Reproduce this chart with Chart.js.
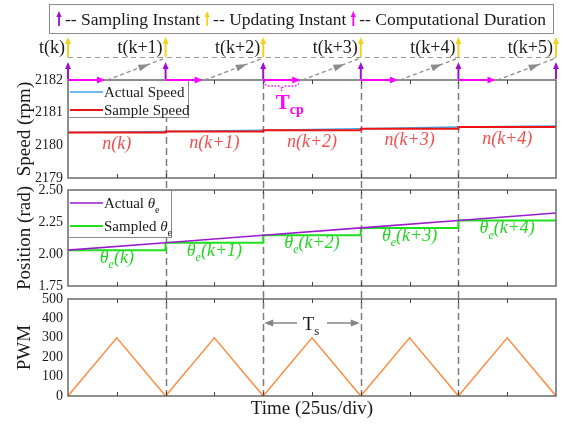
<!DOCTYPE html>
<html>
<head>
<meta charset="utf-8">
<script src="https://cdn.jsdelivr.net/npm/chart.js@4.4.1/dist/chart.umd.min.js"></script>
<style>
  html, body { margin: 0; padding: 0; background: #fff; }
  #wrap { position: relative; width: 566px; height: 426px; }
  #wrap canvas { position: absolute; left: 0; top: 0; }
</style>
</head>
<body>
<div id="wrap">
  <canvas id="pwm" width="566" height="426"></canvas>
  <canvas id="pos" width="566" height="426"></canvas>
  <canvas id="spd" width="566" height="426"></canvas>
</div>
<script>
const SERIF = '"Liberation Serif", "Times New Roman", serif';
const INK = '#1a1a1a';

// time base (µs): one sampling period spans two 25 µs divisions
const samplePeriod = 50;
const timeDivs = [0, 25, 50, 75, 100, 125, 150, 175, 200, 225, 250];
const sampleTimes = [0, 50, 100, 150, 200, 250];
const instantLabels = ['t(k)', 't(k+1)', 't(k+2)', 't(k+3)', 't(k+4)', 't(k+5)'];
const computeDelay = 19; // computational duration Tcp, µs

// speed loop (rpm)
const actualSpeed = [2180.39, 2180.42, 2180.46, 2180.51, 2180.56, 2180.59];
const sampleSpeed = [2180.39, 2180.42, 2180.46, 2180.51, 2180.56];
const speedLabels = ['n(k)', 'n(k+1)', 'n(k+2)', 'n(k+3)', 'n(k+4)'];
const speedTicks = [2179, 2180, 2181, 2182];

// electrical position (rad)
const actualTheta = [2.03, 2.088, 2.146, 2.204, 2.262, 2.32];
const sampledTheta = [2.03, 2.088, 2.146, 2.204, 2.262];
const thetaLabels = ['θ_e(k)', 'θ_e(k+1)', 'θ_e(k+2)', 'θ_e(k+3)', 'θ_e(k+4)'];
const thetaTicks = [1.75, 2.0, 2.25, 2.5];

// PWM carrier
const pwmTimes = [0, 25, 50, 75, 100, 125, 150, 175, 200, 225, 250];
const pwmCarrier = [0, 300, 0, 300, 0, 300, 0, 300, 0, 300, 0];
const pwmTicks = [0, 100, 200, 300, 400, 500];

const C = {
  blue: '#3da5ee', red: '#ee1414', nLabel: '#f24e4e',
  purple: '#9a1ccc', green: '#1fe01f', thLabel: '#22d622',
  orange: '#ff8a3d', sampleArrow: '#a010d0', updateArrow: '#f5d31b',
  magenta: '#ff00ff', gray: '#7c7c7c', frame: '#6b6b6b'
};

// text with '_x' subscripts, optional italics
function drawRich(ctx, text, x, y, opt) {
  const segs = [];
  for (let i = 0; i < text.length; i++) {
    const ch = text[i];
    if (ch === '_' && i + 1 < text.length) { segs.push({ t: text[i + 1], sub: true }); i++; }
    else segs.push({ t: ch, sub: false });
  }
  const subScale = opt.subScale || 0.68;
  const fontFor = s => {
    const it = (opt.italic && (!s.sub || opt.subItalic !== false)) || (opt.greekItalic && s.t === 'θ') ? 'italic ' : '';
    const b = opt.bold ? 'bold ' : '';
    const sz = s.sub ? Math.round(opt.size * subScale) : opt.size;
    return it + b + sz + 'px ' + SERIF;
  };
  let w = 0;
  segs.forEach(s => { ctx.font = fontFor(s); s.w = ctx.measureText(s.t).width; w += s.w; });
  let cx = opt.align === 'center' ? x - w / 2 : opt.align === 'right' ? x - w : x;
  ctx.save();
  ctx.fillStyle = opt.color || INK;
  ctx.textAlign = 'left';
  ctx.textBaseline = 'alphabetic';
  segs.forEach(s => {
    ctx.font = fontFor(s);
    ctx.fillText(s.t, cx, y + (s.sub ? opt.size * (opt.subDrop || 0.25) : 0));
    cx += s.w;
  });
  ctx.restore();
  return w;
}

function arrowHead(ctx, tipX, tipY, dx, dy, len, half) {
  const n = Math.hypot(dx, dy); dx /= n; dy /= n;
  const bx = tipX - dx * len, by = tipY - dy * len;
  ctx.beginPath();
  ctx.moveTo(tipX, tipY);
  ctx.lineTo(bx - dy * half, by + dx * half);
  ctx.lineTo(bx + dy * half, by - dx * half);
  ctx.closePath();
  ctx.fill();
}

function upArrow(ctx, x, yFrom, yTo, color, lw, headLen, headHalf) {
  ctx.save();
  ctx.strokeStyle = color; ctx.fillStyle = color; ctx.lineWidth = lw; ctx.setLineDash([]);
  ctx.beginPath(); ctx.moveTo(x, yFrom); ctx.lineTo(x, yTo + headLen - 1); ctx.stroke();
  arrowHead(ctx, x, yTo, 0, -1, headLen, headHalf);
  ctx.restore();
}

function panelLegend(ctx, x, y, w, h, rows) {
  ctx.save();
  ctx.fillStyle = '#fff';
  ctx.fillRect(x, y, w, h);
  ctx.strokeStyle = '#8a8a8a'; ctx.lineWidth = 1;
  ctx.strokeRect(x + 0.5, y + 0.5, w - 1, h - 1);
  rows.forEach(r => {
    ctx.strokeStyle = r.color; ctx.lineWidth = r.width;
    ctx.beginPath(); ctx.moveTo(x + 2, y + r.dy); ctx.lineTo(x + 35, y + r.dy); ctx.stroke();
    drawRich(ctx, r.text, x + 36, y + r.dy + 5, { size: 15, greekItalic: true, color: INK, subDrop: 0.3 });
  });
  ctx.restore();
}

// box frame and inward ticks on top and bottom edges of each panel
const framePlugin = {
  id: 'frame',
  afterDatasetsDraw(chart) {
    const { ctx, chartArea: a, scales: { x } } = chart;
    ctx.save();
    ctx.strokeStyle = C.frame; ctx.lineWidth = 1.5;
    ctx.strokeRect(a.left, a.top, a.right - a.left, a.bottom - a.top);
    ctx.strokeStyle = '#444'; ctx.lineWidth = 1;
    ctx.beginPath();
    timeDivs.forEach(t => {
      if (t <= timeDivs[0] || t >= timeDivs[timeDivs.length - 1]) return;
      const px = Math.round(x.getPixelForValue(t)) + 0.5;
      ctx.moveTo(px, a.bottom); ctx.lineTo(px, a.bottom - 4);
      ctx.moveTo(px, a.top); ctx.lineTo(px, a.top + 4);
    });
    ctx.stroke();
    ctx.restore();
  }
};

function yAxis(min, max, ticks, title, fmt) {
  return {
    type: 'linear', min, max,
    afterBuildTicks: s => { s.ticks = ticks.map(v => ({ value: v })); },
    afterFit: s => { s.width = 68; },
    ticks: { font: { family: SERIF, size: 14 }, color: INK, padding: 5, autoSkip: false, callback: fmt || (v => v) },
    grid: { display: false, drawTicks: false },
    border: { display: false },
    title: { display: true, text: title, color: INK, font: { family: SERIF, size: 19 }, padding: { top: 14, bottom: 0 } }
  };
}

function baseOptions(padTop, padBottom, y, x) {
  return {
    responsive: false, animation: false, events: [],
    layout: { padding: { top: padTop, bottom: padBottom, left: 0, right: 10 } },
    plugins: { legend: { display: false }, tooltip: { enabled: false } },
    elements: { point: { radius: 0 }, line: { tension: 0 } },
    scales: {
      x: Object.assign({ type: 'linear', min: timeDivs[0], max: timeDivs[timeDivs.length - 1], ticks: { stepSize: 25, display: false }, display: false }, x || {}),
      y
    }
  };
}

const pts = (xs, ys) => ys.map((v, i) => ({ x: xs[i], y: v }));
const held = (xs, ys) => pts(xs, ys).concat([{ x: xs[ys.length], y: ys[ys.length - 1] }]);

// ---------- speed panel with timing annotations ----------
const speedDecor = {
  id: 'speedDecor',
  afterDraw(chart) {
    const { ctx, chartArea: a, scales: { x, y } } = chart;
    const top = a.top;
    const xs = sampleTimes.map(t => x.getPixelForValue(t));

    // n(k) labels under each held sample
    sampleSpeed.forEach((v, i) => {
      drawRich(ctx, speedLabels[i], x.getPixelForValue(sampleTimes[i] + samplePeriod / 2), y.getPixelForValue(v) + 16.5,
        { size: 18, italic: true, color: C.nLabel, align: 'center' });
    });

    panelLegend(ctx, a.left, a.top, 121, 38, [
      { color: C.blue, width: 1.5, text: 'Actual Speed', dy: 12 },
      { color: C.red, width: 2, text: 'Sample Speed', dy: 30 }
    ]);

    ctx.save();
    // dashed reference line at the update level
    ctx.strokeStyle = '#9a9a9a'; ctx.lineWidth = 1.2; ctx.setLineDash([5, 4]);
    ctx.beginPath(); ctx.moveTo(xs[0], top - 22.5); ctx.lineTo(xs[xs.length - 1], top - 22.5); ctx.stroke();

    // computation interval and hand-over to the next update instant
    for (let i = 0; i < sampleSpeed.length; i++) {
      const xe = x.getPixelForValue(sampleTimes[i] + computeDelay);
      ctx.setLineDash([]);
      ctx.strokeStyle = C.magenta; ctx.fillStyle = C.magenta; ctx.lineWidth = 2;
      ctx.beginPath(); ctx.moveTo(xs[i], top); ctx.lineTo(xe - 6, top); ctx.stroke();
      arrowHead(ctx, xe, top, 1, 0, 8, 3.5);

      const x0 = xe + 2, y0 = top, x1 = xs[i + 1], y1 = top - 22;
      ctx.strokeStyle = '#8c8c8c'; ctx.fillStyle = '#8c8c8c'; ctx.lineWidth = 1.3; ctx.setLineDash([4, 3]);
      ctx.beginPath(); ctx.moveTo(x0, y0); ctx.lineTo(x1, y1); ctx.stroke();
      ctx.setLineDash([]);
      const f = 0.72;
      arrowHead(ctx, x0 + (x1 - x0) * f, y0 + (y1 - y0) * f, x1 - x0, y1 - y0, 11, 3.5);
    }

    // Tcp brace on the third period
    const b0 = xs[2] + 1, b1 = x.getPixelForValue(sampleTimes[2] + computeDelay) - 1, bm = (b0 + b1) / 2;
    ctx.strokeStyle = C.magenta; ctx.lineWidth = 1.3; ctx.setLineDash([1.5, 1.8]);
    ctx.beginPath();
    ctx.moveTo(b0, top + 1);
    ctx.quadraticCurveTo(b0, top + 6, b0 + 6, top + 6);
    ctx.lineTo(bm - 4, top + 6);
    ctx.quadraticCurveTo(bm, top + 6, bm, top + 11);
    ctx.quadraticCurveTo(bm, top + 6, bm + 4, top + 6);
    ctx.lineTo(b1 - 6, top + 6);
    ctx.quadraticCurveTo(b1, top + 6, b1, top + 1);
    ctx.stroke();
    ctx.setLineDash([]);
    drawRich(ctx, 'T_c_p', bm + 8, top + 29, { size: 21, bold: true, color: C.magenta, align: 'center', subScale: 0.66, subDrop: 0.24 });

    // sampling / updating instants
    xs.forEach((px, i) => {
      upArrow(ctx, px, top - 1, top - 18, C.sampleArrow, 2, 7, 3);
      upArrow(ctx, px, top - 23, top - 43, C.updateArrow, 2, 7, 3);
      drawRich(ctx, instantLabels[i], px - 3, top - 27, { size: 18, color: INK, align: 'right' });
    });

    // header legend
    ctx.fillStyle = '#fff';
    ctx.fillRect(49, 4, 504, 29);
    ctx.strokeStyle = '#8a8a8a'; ctx.lineWidth = 1;
    ctx.strokeRect(49.5, 4.5, 504, 29);
    const items = [
      { color: C.sampleArrow, text: '-- Sampling Instant' },
      { color: C.updateArrow, text: '-- Updating Instant' },
      { color: C.magenta, text: '-- Computational Duration' }
    ];
    let ax = 59;
    items.forEach(it => {
      upArrow(ctx, ax, 26, 11, it.color, 1.8, 6, 2.6);
      const w = drawRich(ctx, it.text, ax + 6, 24.5, { size: 17.5, color: INK });
      ax = ax + 6 + w + 7;
    });
    ctx.restore();
  }
};

const speedChart = new Chart(document.getElementById('spd'), {
  type: 'line',
  data: {
    datasets: [
      { label: 'Actual Speed', data: pts(sampleTimes, actualSpeed), borderColor: C.blue, borderWidth: 1.5, order: 1 },
      { label: 'Sample Speed', data: held(sampleTimes, sampleSpeed), borderColor: C.red, borderWidth: 2, stepped: true, order: 0 }
    ]
  },
  options: baseOptions(80, 248, yAxis(2179, 2182, speedTicks, 'Speed (rpm)')),
  plugins: [framePlugin, speedDecor]
});

// ---------- position panel ----------
const posDecor = {
  id: 'posDecor',
  afterDraw(chart) {
    const { ctx, chartArea: a, scales: { x, y } } = chart;
    sampledTheta.forEach((v, i) => {
      drawRich(ctx, thetaLabels[i], x.getPixelForValue(sampleTimes[i] + samplePeriod / 2), y.getPixelForValue(v) + 13,
        { size: 18, italic: true, color: C.thLabel, align: 'center', subDrop: 0.28 });
    });
    panelLegend(ctx, a.left, a.top, 104, 48, [
      { color: C.purple, width: 1.5, text: 'Actual θ_e', dy: 13 },
      { color: C.green, width: 2, text: 'Sampled θ_e', dy: 36 }
    ]);
  }
};

const posChart = new Chart(document.getElementById('pos'), {
  type: 'line',
  data: {
    datasets: [
      { label: 'Actual θe', data: pts(sampleTimes, actualTheta), borderColor: C.purple, borderWidth: 1.6, order: 0 },
      { label: 'Sampled θe', data: held(sampleTimes, sampledTheta), borderColor: C.green, borderWidth: 2, stepped: true, order: 1 }
    ]
  },
  options: baseOptions(190, 140, yAxis(1.75, 2.5, thetaTicks, 'Position (rad)', v => Number(v).toFixed(2))),
  plugins: [framePlugin, posDecor]
});

// ---------- PWM panel, sampling-instant markers through all panels ----------
const pwmDecor = {
  id: 'pwmDecor',
  beforeDatasetsDraw(chart) {
    const { ctx, chartArea: a, scales: { x } } = chart;
    const yTop = speedChart.chartArea.top;
    ctx.save();
    ctx.strokeStyle = C.gray; ctx.lineWidth = 1.5; ctx.setLineDash([7, 4]);
    sampleTimes.slice(1, -1).forEach(t => {
      const px = Math.round(x.getPixelForValue(t)) + 0.5;
      ctx.beginPath(); ctx.moveTo(px, yTop + 2); ctx.lineTo(px, a.bottom); ctx.stroke();
    });
    ctx.restore();
  },
  afterDraw(chart) {
    const { ctx, chartArea: a, scales: { x } } = chart;
    const x0 = x.getPixelForValue(sampleTimes[2]), x1 = x.getPixelForValue(sampleTimes[3]);
    const mid = (x0 + x1) / 2, ya = a.top + 24;
    ctx.save();
    ctx.strokeStyle = '#858585'; ctx.fillStyle = '#858585'; ctx.lineWidth = 1.5;
    ctx.beginPath();
    ctx.moveTo(x0 + 8, ya); ctx.lineTo(mid - 15, ya);
    ctx.moveTo(mid + 15, ya); ctx.lineTo(x1 - 8, ya);
    ctx.stroke();
    arrowHead(ctx, x0 + 1, ya, -1, 0, 9, 3.5);
    arrowHead(ctx, x1 - 1, ya, 1, 0, 9, 3.5);
    drawRich(ctx, 'T_s', mid - 1, ya + 7, { size: 19, color: INK, align: 'center', subDrop: 0.25 });
    ctx.restore();
  }
};

const pwmChart = new Chart(document.getElementById('pwm'), {
  type: 'line',
  data: {
    datasets: [
      { label: 'PWM', data: pts(pwmTimes, pwmCarrier), borderColor: C.orange, borderWidth: 1.5 }
    ]
  },
  options: baseOptions(299, 0, yAxis(0, 500, pwmTicks, 'PWM'), {
    display: true,
    afterFit: s => { s.height = 30; },
    grid: { display: false, drawTicks: false },
    border: { display: false },
    title: { display: true, text: 'Time (25us/div)', color: INK, font: { family: SERIF, size: 19 }, padding: { top: 0, bottom: 6 } }
  }),
  plugins: [framePlugin, pwmDecor]
});
</script>
</body>
</html>
